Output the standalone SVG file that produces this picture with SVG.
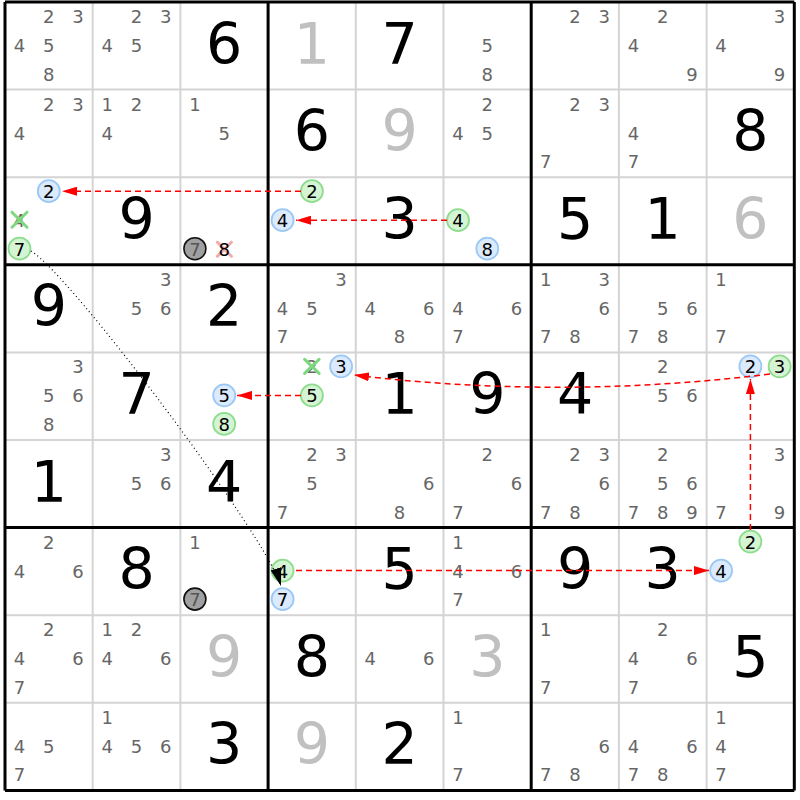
<svg xmlns="http://www.w3.org/2000/svg" width="800" height="800" viewBox="0 0 800 800">
<defs>
<style>
text{font-family:"DejaVu Sans","Liberation Sans",sans-serif;text-anchor:middle}
.c text{font-size:18px;fill:#666}
.g{font-size:57px;fill:#000}
.s{font-size:57px;fill:#c0c0c0}
.k{font-size:18px;fill:#000}
.cb{fill:#dbeafc;stroke:#9cc8f5;stroke-width:1.8}
.cg{fill:#d4f4d4;stroke:#8edc8e;stroke-width:1.8}
.cx{fill:#a0a0a0;stroke:#111;stroke-width:1.6}
.xg{stroke:#7ed87e;stroke-width:3;stroke-linecap:round}
.xr{stroke:#f4a8a8;stroke-width:3;stroke-linecap:round}
.thin{stroke:#d4d4d4;stroke-width:2}
.thick{stroke:#000;stroke-width:3}
.red{fill:none;stroke:#f00;stroke-width:1.5;stroke-dasharray:6,4;marker-end:url(#ar)}
.dot{fill:none;stroke:#000;stroke-width:1.2;stroke-dasharray:1,3;marker-end:url(#ab)}
</style>
<marker id="ar" viewBox="0 0 15 9" refX="15" refY="4.5" markerWidth="15" markerHeight="9" markerUnits="userSpaceOnUse" orient="auto"><path d="M0,0 L15,4.5 L0,9 Z" fill="#f00"/></marker>
<marker id="ab" viewBox="0 0 18 11" refX="18" refY="5.5" markerWidth="18" markerHeight="11" markerUnits="userSpaceOnUse" orient="auto"><path d="M0,0 L18,5.5 L0,11 Z" fill="#000"/></marker>
</defs>
<rect width="800" height="800" fill="#fff"/>
<g id="grid">
<path class="thin" d="M92.7,2V790.4M180.4,2V790.4M355.8,2V790.4M443.5,2V790.4M618.9,2V790.4M706.6,2V790.4M5,89.6H794.3M5,177.2H794.3M5,352.4H794.3M5,440H794.3M5,615.2H794.3M5,702.8H794.3"/>
<path class="thick" d="M5,2V790.4M268.1,2V790.4M531.2,2V790.4M794.3,2V790.4M5,2H794.3M5,264.8H794.3M5,527.6H794.3M5,790.4H794.3"/>
</g>
<!-- Row 1 -->
<g id="r1c1" class="c" transform="translate(5,2)"><text x="43.8" y="21">2</text><text x="73" y="21">3</text><text x="14.5" y="50">4</text><text x="43.8" y="50">5</text><text x="43.8" y="78.5">8</text></g>
<g id="r1c2" class="c" transform="translate(92.7,2)"><text x="43.8" y="21">2</text><text x="73" y="21">3</text><text x="14.5" y="50">4</text><text x="43.8" y="50">5</text></g>
<g id="r1c3" transform="translate(180.4,2)"><text class="g" x="43.85" y="61.5">6</text></g>
<g id="r1c4" transform="translate(268.1,2)"><text class="s" x="43.85" y="61.5">1</text></g>
<g id="r1c5" transform="translate(355.8,2)"><text class="g" x="43.85" y="61.5">7</text></g>
<g id="r1c6" class="c" transform="translate(443.5,2)"><text x="43.8" y="50">5</text><text x="43.8" y="78.5">8</text></g>
<g id="r1c7" class="c" transform="translate(531.2,2)"><text x="43.8" y="21">2</text><text x="73" y="21">3</text></g>
<g id="r1c8" class="c" transform="translate(618.9,2)"><text x="43.8" y="21">2</text><text x="14.5" y="50">4</text><text x="73" y="78.5">9</text></g>
<g id="r1c9" class="c" transform="translate(706.6,2)"><text x="73" y="21">3</text><text x="14.5" y="50">4</text><text x="73" y="78.5">9</text></g>
<!-- Row 2 -->
<g id="r2c1" class="c" transform="translate(5,89.6)"><text x="43.8" y="21">2</text><text x="73" y="21">3</text><text x="14.5" y="50">4</text></g>
<g id="r2c2" class="c" transform="translate(92.7,89.6)"><text x="14.5" y="21">1</text><text x="43.8" y="21">2</text><text x="14.5" y="50">4</text></g>
<g id="r2c3" class="c" transform="translate(180.4,89.6)"><text x="14.5" y="21">1</text><text x="43.8" y="50">5</text></g>
<g id="r2c4" transform="translate(268.1,89.6)"><text class="g" x="43.85" y="61.5">6</text></g>
<g id="r2c5" transform="translate(355.8,89.6)"><text class="s" x="43.85" y="61.5">9</text></g>
<g id="r2c6" class="c" transform="translate(443.5,89.6)"><text x="43.8" y="21">2</text><text x="14.5" y="50">4</text><text x="43.8" y="50">5</text></g>
<g id="r2c7" class="c" transform="translate(531.2,89.6)"><text x="43.8" y="21">2</text><text x="73" y="21">3</text><text x="14.5" y="78.5">7</text></g>
<g id="r2c8" class="c" transform="translate(618.9,89.6)"><text x="14.5" y="50">4</text><text x="14.5" y="78.5">7</text></g>
<g id="r2c9" transform="translate(706.6,89.6)"><text class="g" x="43.85" y="61.5">8</text></g>
<!-- Row 3 -->
<g id="r3c1" transform="translate(5,177.2)"><circle class="cb" cx="43.8" cy="14" r="11"/><text class="k" x="43.8" y="21">2</text><text x="14.5" y="50" style="font-size:18px;fill:#666">4</text><path class="xg" d="M7,35L22,50M22,35L7,50"/><circle class="cg" cx="14.5" cy="71.5" r="11"/><text class="k" x="14.5" y="78.5">7</text></g>
<g id="r3c2" transform="translate(92.7,177.2)"><text class="g" x="43.85" y="61.5">9</text></g>
<g id="r3c3" transform="translate(180.4,177.2)"><circle class="cx" cx="14.5" cy="71.5" r="11"/><text x="14.5" y="78.5" style="font-size:18px;fill:#555">7</text><path class="xr" d="M37,65L51,79M51,65L37,79"/><text class="k" x="43.8" y="78.5">8</text></g>
<g id="r3c4" transform="translate(268.1,177.2)"><circle class="cg" cx="43.8" cy="14" r="11"/><text class="k" x="43.8" y="21">2</text><circle class="cb" cx="14.5" cy="43" r="11"/><text class="k" x="14.5" y="50">4</text></g>
<g id="r3c5" transform="translate(355.8,177.2)"><text class="g" x="43.85" y="61.5">3</text></g>
<g id="r3c6" transform="translate(443.5,177.2)"><circle class="cg" cx="14.5" cy="43" r="11"/><text class="k" x="14.5" y="50">4</text><circle class="cb" cx="43.8" cy="71.5" r="11"/><text class="k" x="43.8" y="78.5">8</text></g>
<g id="r3c7" transform="translate(531.2,177.2)"><text class="g" x="43.85" y="61.5">5</text></g>
<g id="r3c8" transform="translate(618.9,177.2)"><text class="g" x="43.85" y="61.5">1</text></g>
<g id="r3c9" transform="translate(706.6,177.2)"><text class="s" x="43.85" y="61.5">6</text></g>
<!-- Row 4 -->
<g id="r4c1" transform="translate(5,264.8)"><text class="g" x="43.85" y="61.5">9</text></g>
<g id="r4c2" class="c" transform="translate(92.7,264.8)"><text x="73" y="21">3</text><text x="43.8" y="50">5</text><text x="73" y="50">6</text></g>
<g id="r4c3" transform="translate(180.4,264.8)"><text class="g" x="43.85" y="61.5">2</text></g>
<g id="r4c4" class="c" transform="translate(268.1,264.8)"><text x="73" y="21">3</text><text x="14.5" y="50">4</text><text x="43.8" y="50">5</text><text x="14.5" y="78.5">7</text></g>
<g id="r4c5" class="c" transform="translate(355.8,264.8)"><text x="14.5" y="50">4</text><text x="73" y="50">6</text><text x="43.8" y="78.5">8</text></g>
<g id="r4c6" class="c" transform="translate(443.5,264.8)"><text x="14.5" y="50">4</text><text x="73" y="50">6</text><text x="14.5" y="78.5">7</text></g>
<g id="r4c7" class="c" transform="translate(531.2,264.8)"><text x="14.5" y="21">1</text><text x="73" y="21">3</text><text x="73" y="50">6</text><text x="14.5" y="78.5">7</text><text x="43.8" y="78.5">8</text></g>
<g id="r4c8" class="c" transform="translate(618.9,264.8)"><text x="43.8" y="50">5</text><text x="73" y="50">6</text><text x="14.5" y="78.5">7</text><text x="43.8" y="78.5">8</text></g>
<g id="r4c9" class="c" transform="translate(706.6,264.8)"><text x="14.5" y="21">1</text><text x="14.5" y="78.5">7</text></g>
<!-- Row 5 -->
<g id="r5c1" class="c" transform="translate(5,352.4)"><text x="73" y="21">3</text><text x="43.8" y="50">5</text><text x="73" y="50">6</text><text x="43.8" y="78.5">8</text></g>
<g id="r5c2" transform="translate(92.7,352.4)"><text class="g" x="43.85" y="61.5">7</text></g>
<g id="r5c3" transform="translate(180.4,352.4)"><circle class="cb" cx="43.8" cy="43" r="11"/><text class="k" x="43.8" y="50">5</text><circle class="cg" cx="43.8" cy="71.5" r="11"/><text class="k" x="43.8" y="78.5">8</text></g>
<g id="r5c4" transform="translate(268.1,352.4)"><text x="43.8" y="21" style="font-size:18px;fill:#666">2</text><path class="xg" d="M36.5,7L51,21M51,7L36.5,21"/><circle class="cb" cx="73" cy="14" r="11"/><text class="k" x="73" y="21">3</text><circle class="cg" cx="43.8" cy="43" r="11"/><text class="k" x="43.8" y="50">5</text></g>
<g id="r5c5" transform="translate(355.8,352.4)"><text class="g" x="43.85" y="61.5">1</text></g>
<g id="r5c6" transform="translate(443.5,352.4)"><text class="g" x="43.85" y="61.5">9</text></g>
<g id="r5c7" transform="translate(531.2,352.4)"><text class="g" x="43.85" y="61.5">4</text></g>
<g id="r5c8" class="c" transform="translate(618.9,352.4)"><text x="43.8" y="21">2</text><text x="43.8" y="50">5</text><text x="73" y="50">6</text></g>
<g id="r5c9" transform="translate(706.6,352.4)"><circle class="cb" cx="43.8" cy="14" r="11"/><text class="k" x="43.8" y="21">2</text><circle class="cg" cx="73" cy="14" r="11"/><text class="k" x="73" y="21">3</text></g>
<!-- Row 6 -->
<g id="r6c1" transform="translate(5,440)"><text class="g" x="43.85" y="61.5">1</text></g>
<g id="r6c2" class="c" transform="translate(92.7,440)"><text x="73" y="21">3</text><text x="43.8" y="50">5</text><text x="73" y="50">6</text></g>
<g id="r6c3" transform="translate(180.4,440)"><text class="g" x="43.85" y="61.5">4</text></g>
<g id="r6c4" class="c" transform="translate(268.1,440)"><text x="43.8" y="21">2</text><text x="73" y="21">3</text><text x="43.8" y="50">5</text><text x="14.5" y="78.5">7</text></g>
<g id="r6c5" class="c" transform="translate(355.8,440)"><text x="73" y="50">6</text><text x="43.8" y="78.5">8</text></g>
<g id="r6c6" class="c" transform="translate(443.5,440)"><text x="43.8" y="21">2</text><text x="73" y="50">6</text><text x="14.5" y="78.5">7</text></g>
<g id="r6c7" class="c" transform="translate(531.2,440)"><text x="43.8" y="21">2</text><text x="73" y="21">3</text><text x="73" y="50">6</text><text x="14.5" y="78.5">7</text><text x="43.8" y="78.5">8</text></g>
<g id="r6c8" class="c" transform="translate(618.9,440)"><text x="43.8" y="21">2</text><text x="43.8" y="50">5</text><text x="73" y="50">6</text><text x="14.5" y="78.5">7</text><text x="43.8" y="78.5">8</text><text x="73" y="78.5">9</text></g>
<g id="r6c9" class="c" transform="translate(706.6,440)"><text x="73" y="21">3</text><text x="14.5" y="78.5">7</text><text x="73" y="78.5">9</text></g>
<!-- Row 7 -->
<g id="r7c1" class="c" transform="translate(5,527.6)"><text x="43.8" y="21">2</text><text x="14.5" y="50">4</text><text x="73" y="50">6</text></g>
<g id="r7c2" transform="translate(92.7,527.6)"><text class="g" x="43.85" y="61.5">8</text></g>
<g id="r7c3" transform="translate(180.4,527.6)"><text x="14.5" y="21" style="font-size:18px;fill:#666">1</text><circle class="cx" cx="14.5" cy="71.5" r="11"/><text x="14.5" y="78.5" style="font-size:18px;fill:#555">7</text></g>
<g id="r7c4" transform="translate(268.1,527.6)"><circle class="cg" cx="14.5" cy="43" r="11"/><text class="k" x="14.5" y="50">4</text><circle class="cb" cx="14.5" cy="71.5" r="11"/><text class="k" x="14.5" y="78.5">7</text></g>
<g id="r7c5" transform="translate(355.8,527.6)"><text class="g" x="43.85" y="61.5">5</text></g>
<g id="r7c6" class="c" transform="translate(443.5,527.6)"><text x="14.5" y="21">1</text><text x="14.5" y="50">4</text><text x="73" y="50">6</text><text x="14.5" y="78.5">7</text></g>
<g id="r7c7" transform="translate(531.2,527.6)"><text class="g" x="43.85" y="61.5">9</text></g>
<g id="r7c8" transform="translate(618.9,527.6)"><text class="g" x="43.85" y="61.5">3</text></g>
<g id="r7c9" transform="translate(706.6,527.6)"><circle class="cg" cx="43.8" cy="14" r="11"/><text class="k" x="43.8" y="21">2</text><circle class="cb" cx="14.5" cy="43" r="11"/><text class="k" x="14.5" y="50">4</text></g>
<!-- Row 8 -->
<g id="r8c1" class="c" transform="translate(5,615.2)"><text x="43.8" y="21">2</text><text x="14.5" y="50">4</text><text x="73" y="50">6</text><text x="14.5" y="78.5">7</text></g>
<g id="r8c2" class="c" transform="translate(92.7,615.2)"><text x="14.5" y="21">1</text><text x="43.8" y="21">2</text><text x="14.5" y="50">4</text><text x="73" y="50">6</text></g>
<g id="r8c3" transform="translate(180.4,615.2)"><text class="s" x="43.85" y="61.5">9</text></g>
<g id="r8c4" transform="translate(268.1,615.2)"><text class="g" x="43.85" y="61.5">8</text></g>
<g id="r8c5" class="c" transform="translate(355.8,615.2)"><text x="14.5" y="50">4</text><text x="73" y="50">6</text></g>
<g id="r8c6" transform="translate(443.5,615.2)"><text class="s" x="43.85" y="61.5">3</text></g>
<g id="r8c7" class="c" transform="translate(531.2,615.2)"><text x="14.5" y="21">1</text><text x="14.5" y="78.5">7</text></g>
<g id="r8c8" class="c" transform="translate(618.9,615.2)"><text x="43.8" y="21">2</text><text x="14.5" y="50">4</text><text x="73" y="50">6</text><text x="14.5" y="78.5">7</text></g>
<g id="r8c9" transform="translate(706.6,615.2)"><text class="g" x="43.85" y="61.5">5</text></g>
<!-- Row 9 -->
<g id="r9c1" class="c" transform="translate(5,702.8)"><text x="14.5" y="50">4</text><text x="43.8" y="50">5</text><text x="14.5" y="78.5">7</text></g>
<g id="r9c2" class="c" transform="translate(92.7,702.8)"><text x="14.5" y="21">1</text><text x="14.5" y="50">4</text><text x="43.8" y="50">5</text><text x="73" y="50">6</text></g>
<g id="r9c3" transform="translate(180.4,702.8)"><text class="g" x="43.85" y="61.5">3</text></g>
<g id="r9c4" transform="translate(268.1,702.8)"><text class="s" x="43.85" y="61.5">9</text></g>
<g id="r9c5" transform="translate(355.8,702.8)"><text class="g" x="43.85" y="61.5">2</text></g>
<g id="r9c6" class="c" transform="translate(443.5,702.8)"><text x="14.5" y="21">1</text><text x="14.5" y="78.5">7</text></g>
<g id="r9c7" class="c" transform="translate(531.2,702.8)"><text x="73" y="50">6</text><text x="14.5" y="78.5">7</text><text x="43.8" y="78.5">8</text></g>
<g id="r9c8" class="c" transform="translate(618.9,702.8)"><text x="14.5" y="50">4</text><text x="73" y="50">6</text><text x="14.5" y="78.5">7</text><text x="43.8" y="78.5">8</text></g>
<g id="r9c9" class="c" transform="translate(706.6,702.8)"><text x="14.5" y="21">1</text><text x="14.5" y="50">4</text><text x="14.5" y="78.5">7</text></g>
<g id="connectors">
<path class="red" d="M301,191.2 L62,191.2"/>
<path class="red" d="M447,220.2 L296,220.2"/>
<path class="red" d="M770,374 Q560,400 354,375"/>
<path class="red" d="M301,395.4 L237,395.4"/>
<path class="red" d="M750.4,530 L750.4,379"/>
<path class="red" d="M296,570.6 L709,570.6"/>
<path class="dot" d="M31,251 C71,275 266,536 281,586"/>
</g>
</svg>
